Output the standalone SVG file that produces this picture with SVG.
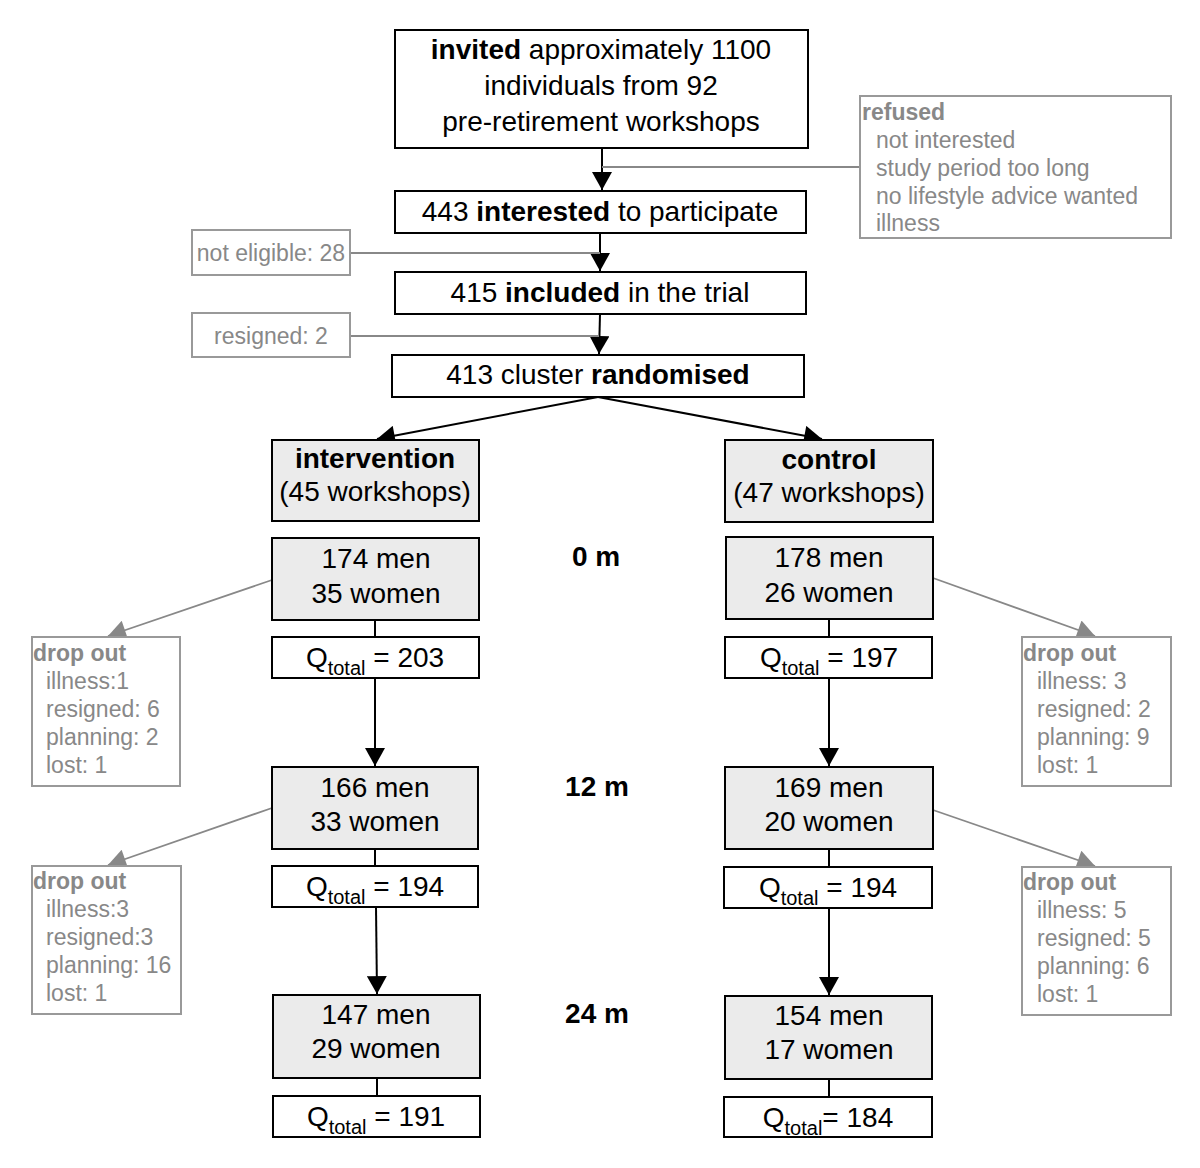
<svg xmlns="http://www.w3.org/2000/svg" width="1200" height="1168" viewBox="0 0 1200 1168">
<style>
text{font-family:"Liberation Sans",Arial,Helvetica,sans-serif;}
.m{font-size:28px;fill:#000;text-anchor:middle;}
.b{font-weight:bold;}
.g{font-size:23px;fill:#888;}
.gc{font-size:23px;fill:#888;text-anchor:middle;}
.sub{font-size:20px;}
.box{fill:#fff;stroke:#000;stroke-width:2;}
.gbox{fill:#ebebeb;stroke:#000;stroke-width:2;}
.side{fill:#fff;stroke:#999;stroke-width:2;}
.c{stroke:#000;stroke-width:2;fill:none;}
.gl{stroke:#888;stroke-width:1.8;fill:none;}
</style>
<defs>
<marker id="ah" markerUnits="userSpaceOnUse" markerWidth="20" markerHeight="20" refX="17" refY="9.5" orient="auto" viewBox="0 0 17 19">
<path d="M0,0 L17,9.5 L0,19 z" fill="#000"/>
</marker>
<marker id="gah" markerUnits="userSpaceOnUse" markerWidth="20" markerHeight="20" refX="17" refY="9.5" orient="auto" viewBox="0 0 17 19">
<path d="M0,0 L17,9.5 L0,19 z" fill="#888"/>
</marker>
</defs>

<g id="connectors">
<line class="c" x1="602" y1="148" x2="602" y2="190" marker-end="url(#ah)"/>
<line class="gl" x1="860" y1="167" x2="602" y2="167"/>
<line class="c" x1="600" y1="233" x2="600" y2="271" marker-end="url(#ah)"/>
<line class="gl" x1="350" y1="253" x2="600" y2="253"/>
<line class="c" x1="600" y1="314" x2="599" y2="354" marker-end="url(#ah)"/>
<line class="gl" x1="350" y1="336" x2="599" y2="336"/>
<line class="c" x1="598" y1="397" x2="377" y2="439" marker-end="url(#ah)"/>
<line class="c" x1="598" y1="397" x2="822" y2="439" marker-end="url(#ah)"/>
<line class="gl" x1="272" y1="580" x2="108" y2="636" marker-end="url(#gah)"/>
<line class="gl" x1="933" y1="578" x2="1095" y2="636" marker-end="url(#gah)"/>
<line class="gl" x1="272" y1="808" x2="108" y2="865" marker-end="url(#gah)"/>
<line class="gl" x1="933" y1="810" x2="1095" y2="866" marker-end="url(#gah)"/>
<line class="c" x1="375" y1="620" x2="375" y2="637"/>
<line class="c" x1="375" y1="678" x2="375" y2="766" marker-end="url(#ah)"/>
<line class="c" x1="375" y1="849" x2="375" y2="866"/>
<line class="c" x1="376" y1="907" x2="377" y2="994" marker-end="url(#ah)"/>
<line class="c" x1="377" y1="1078" x2="377" y2="1096"/>
<line class="c" x1="829" y1="619" x2="829" y2="637"/>
<line class="c" x1="829" y1="678" x2="829" y2="766" marker-end="url(#ah)"/>
<line class="c" x1="829" y1="849" x2="829" y2="867"/>
<line class="c" x1="829" y1="908" x2="829" y2="995" marker-end="url(#ah)"/>
<line class="c" x1="829" y1="1079" x2="829" y2="1097"/>
</g>

<g id="invited">
<rect class="box" x="395" y="30" width="413" height="118"/>
<text class="m" x="601" y="59"><tspan class="b">invited</tspan> approximately 1100</text>
<text class="m" x="601" y="95">individuals from 92</text>
<text class="m" x="601" y="131">pre-retirement workshops</text>
</g>

<g id="refused">
<rect class="side" x="860" y="96" width="311" height="142"/>
<text class="g b" x="862" y="120">refused</text>
<text class="g" x="876" y="148">not interested</text>
<text class="g" x="876" y="176">study period too long</text>
<text class="g" x="876" y="204">no lifestyle advice wanted</text>
<text class="g" x="876" y="231">illness</text>
</g>

<g id="interested">
<rect class="box" x="395" y="191" width="411" height="42"/>
<text class="m" x="600" y="221">443 <tspan class="b">interested</tspan> to participate</text>
</g>

<g id="noteligible">
<rect class="side" x="192" y="230" width="158" height="45"/>
<text class="gc" x="271" y="261">not eligible: 28</text>
</g>

<g id="included">
<rect class="box" x="395" y="272" width="411" height="42"/>
<text class="m" x="600" y="302">415 <tspan class="b">included</tspan> in the trial</text>
</g>

<g id="resigned">
<rect class="side" x="192" y="313" width="158" height="44"/>
<text class="gc" x="271" y="344">resigned: 2</text>
</g>

<g id="randomised">
<rect class="box" x="392" y="355" width="412" height="42"/>
<text class="m" x="598" y="384">413 cluster <tspan class="b">randomised</tspan></text>
</g>

<g id="intervention">
<rect class="gbox" x="272" y="440" width="207" height="81"/>
<text class="m b" x="375" y="468">intervention</text>
<text class="m" x="375" y="501">(45 workshops)</text>
</g>

<g id="control">
<rect class="gbox" x="725" y="440" width="208" height="82"/>
<text class="m b" x="829" y="469">control</text>
<text class="m" x="829" y="502">(47 workshops)</text>
</g>

<g id="t0">
<text class="m b" x="596" y="566">0 m</text>
</g>
<g id="t12">
<text class="m b" x="597" y="796">12 m</text>
</g>
<g id="t24">
<text class="m b" x="597" y="1023">24 m</text>
</g>

<g id="i0">
<rect class="gbox" x="272" y="538" width="207" height="82"/>
<text class="m" x="376" y="568">174 men</text>
<text class="m" x="376" y="603">35 women</text>
</g>
<g id="iq0">
<rect class="box" x="272" y="637" width="207" height="41"/>
<text class="m" x="375" y="667">Q<tspan class="sub" dy="8">total</tspan><tspan dy="-8"> = 203</tspan></text>
</g>

<g id="c0">
<rect class="gbox" x="726" y="537" width="207" height="82"/>
<text class="m" x="829" y="567">178 men</text>
<text class="m" x="829" y="602">26 women</text>
</g>
<g id="cq0">
<rect class="box" x="725" y="637" width="207" height="41"/>
<text class="m" x="829" y="667">Q<tspan class="sub" dy="8">total</tspan><tspan dy="-8"> = 197</tspan></text>
</g>

<g id="idrop1">
<rect class="side" x="32" y="637" width="148" height="149"/>
<text class="g b" x="33" y="661">drop out</text>
<text class="g" x="46" y="689">illness:1</text>
<text class="g" x="46" y="717">resigned: 6</text>
<text class="g" x="46" y="745">planning: 2</text>
<text class="g" x="46" y="773">lost: 1</text>
</g>

<g id="cdrop1">
<rect class="side" x="1022" y="637" width="149" height="149"/>
<text class="g b" x="1023" y="661">drop out</text>
<text class="g" x="1037" y="689">illness: 3</text>
<text class="g" x="1037" y="717">resigned: 2</text>
<text class="g" x="1037" y="745">planning: 9</text>
<text class="g" x="1037" y="773">lost: 1</text>
</g>

<g id="i12">
<rect class="gbox" x="272" y="767" width="206" height="82"/>
<text class="m" x="375" y="797">166 men</text>
<text class="m" x="375" y="831">33 women</text>
</g>
<g id="iq12">
<rect class="box" x="272" y="866" width="206" height="41"/>
<text class="m" x="375" y="896">Q<tspan class="sub" dy="8">total</tspan><tspan dy="-8"> = 194</tspan></text>
</g>

<g id="c12">
<rect class="gbox" x="725" y="767" width="208" height="82"/>
<text class="m" x="829" y="797">169 men</text>
<text class="m" x="829" y="831">20 women</text>
</g>
<g id="cq12">
<rect class="box" x="724" y="867" width="208" height="41"/>
<text class="m" x="828" y="897">Q<tspan class="sub" dy="8">total</tspan><tspan dy="-8"> = 194</tspan></text>
</g>

<g id="idrop2">
<rect class="side" x="32" y="866" width="149" height="148"/>
<text class="g b" x="33" y="889">drop out</text>
<text class="g" x="46" y="917">illness:3</text>
<text class="g" x="46" y="945">resigned:3</text>
<text class="g" x="46" y="973">planning: 16</text>
<text class="g" x="46" y="1001">lost: 1</text>
</g>

<g id="cdrop2">
<rect class="side" x="1022" y="867" width="149" height="148"/>
<text class="g b" x="1023" y="890">drop out</text>
<text class="g" x="1037" y="918">illness: 5</text>
<text class="g" x="1037" y="946">resigned: 5</text>
<text class="g" x="1037" y="974">planning: 6</text>
<text class="g" x="1037" y="1002">lost: 1</text>
</g>

<g id="i24">
<rect class="gbox" x="273" y="995" width="207" height="83"/>
<text class="m" x="376" y="1024">147 men</text>
<text class="m" x="376" y="1058">29 women</text>
</g>
<g id="iq24">
<rect class="box" x="273" y="1096" width="207" height="41"/>
<text class="m" x="376" y="1126">Q<tspan class="sub" dy="8">total</tspan><tspan dy="-8"> = 191</tspan></text>
</g>

<g id="c24">
<rect class="gbox" x="725" y="996" width="207" height="83"/>
<text class="m" x="829" y="1025">154 men</text>
<text class="m" x="829" y="1059">17 women</text>
</g>
<g id="cq24">
<rect class="box" x="724" y="1097" width="208" height="40"/>
<text class="m" x="828" y="1127">Q<tspan class="sub" dy="8">total</tspan><tspan dy="-8">= 184</tspan></text>
</g>
</svg>
